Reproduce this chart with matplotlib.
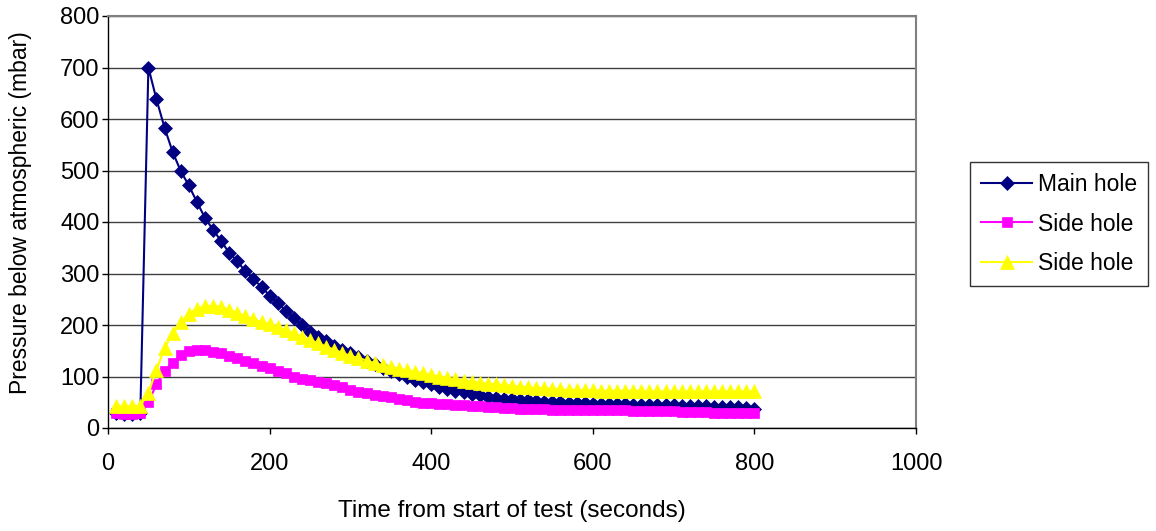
import matplotlib
matplotlib.use("Agg")
import matplotlib.pyplot as plt

plt.rcParams['font.family'] = ['Liberation Sans', 'DejaVu Sans']

time_s = list(range(10, 801, 10))

main_hole = [30, 28, 28, 30, 700, 638, 583, 536, 499, 471,
             439, 408, 385, 363, 340, 324, 304, 289, 274, 257,
             243, 228, 213, 200, 187, 177, 168, 160, 152, 145,
             138, 131, 124, 117, 111, 105, 99, 94, 89, 85,
             80, 76, 72, 69, 66, 64, 61, 59, 57, 56,
             55, 54, 52, 51, 50, 50, 49, 48, 48, 47,
             47, 46, 46, 46, 45, 45, 45, 44, 44, 44,
             43, 43, 42, 42, 41, 41, 40, 40, 39, 36]

side_hole_1 = [30, 28, 28, 30, 50, 85, 111, 127, 142, 149,
               152, 151, 148, 146, 140, 136, 131, 126, 120, 116,
               111, 106, 100, 96, 93, 90, 87, 84, 80, 73,
               70, 67, 64, 62, 60, 57, 54, 51, 49, 48,
               47, 46, 45, 44, 43, 42, 41, 40, 39, 38,
               37, 37, 36, 36, 35, 35, 34, 34, 34, 34,
               34, 34, 34, 34, 33, 33, 33, 33, 33, 33,
               32, 32, 31, 31, 30, 30, 30, 30, 30, 30]

side_hole_2 = [42, 42, 42, 43, 68, 113, 155, 184, 205, 222,
               232, 236, 237, 235, 230, 223, 217, 211, 206, 202,
               196, 190, 184, 177, 170, 165, 158, 152, 146, 140,
               136, 131, 126, 122, 118, 115, 112, 109, 106, 103,
               100, 97, 95, 92, 90, 88, 86, 85, 83, 82,
               80, 79, 78, 77, 76, 75, 74, 74, 73, 73,
               72, 72, 72, 72, 72, 72, 71, 71, 71, 71,
               71, 71, 71, 71, 71, 71, 71, 71, 71, 71]

series_labels = ["Main hole", "Side hole", "Side hole"]
x_ticks = [0, 200, 400, 600, 800, 1000]
y_ticks = [0, 100, 200, 300, 400, 500, 600, 700, 800]

fig = plt.figure(figsize=(11.56, 5.31), dpi=100)
ax = fig.add_axes([108/1156, 1 - 428/531, (916 - 108)/1156, (428 - 16)/531])

ax.set_xlim(0, 1000)
ax.set_ylim(0, 800)
ax.set_xticks(x_ticks)
ax.set_yticks(y_ticks)

ax.yaxis.grid(True, color='#404040', linewidth=1.0)
ax.set_axisbelow(True)

l1, = ax.plot(time_s, main_hole, color='#000080', linewidth=1.5,
              marker='D', markersize=7.5, markerfacecolor='#000080',
              markeredgecolor='#000080', markeredgewidth=0.5, zorder=3)
l3, = ax.plot(time_s, side_hole_2, color='#FFFF00', linewidth=1.5,
              marker='^', markersize=10, markerfacecolor='#FFFF00',
              markeredgecolor='#FFFF00', markeredgewidth=0.5, zorder=5)
l2, = ax.plot(time_s, side_hole_1, color='#FF00FF', linewidth=1.5,
              marker='s', markersize=7.2, markerfacecolor='#FF00FF',
              markeredgecolor='#FF00FF', markeredgewidth=0.5, zorder=4)

for s in ['top', 'right']:
    ax.spines[s].set_color('#808080')
    ax.spines[s].set_linewidth(1.5)
for s in ['left', 'bottom']:
    ax.spines[s].set_color('black')
    ax.spines[s].set_linewidth(1.0)

ax.tick_params(axis='both', direction='out', length=4, width=1.0,
               labelsize=17, colors='black')
ax.tick_params(axis='x', pad=14)
ax.tick_params(axis='y', pad=2)

ax.set_xlabel("Time from start of test (seconds)", fontsize=17.5, labelpad=18)
ax.set_ylabel("Pressure below atmospheric (mbar)", fontsize=16.5)
ax.yaxis.set_label_coords(-0.094, 0.523)

leg = fig.legend([l1, l2, l3], series_labels, loc='upper left',
                 bbox_to_anchor=(970/1156, 1 - 162/531), fontsize=16.5,
                 frameon=True, fancybox=False, edgecolor='black',
                 borderpad=0.5, handlelength=2.2, labelspacing=0.7,
                 handletextpad=0.25, borderaxespad=0)
leg.get_frame().set_linewidth(1.0)

fig.savefig("out.png", dpi=100)
